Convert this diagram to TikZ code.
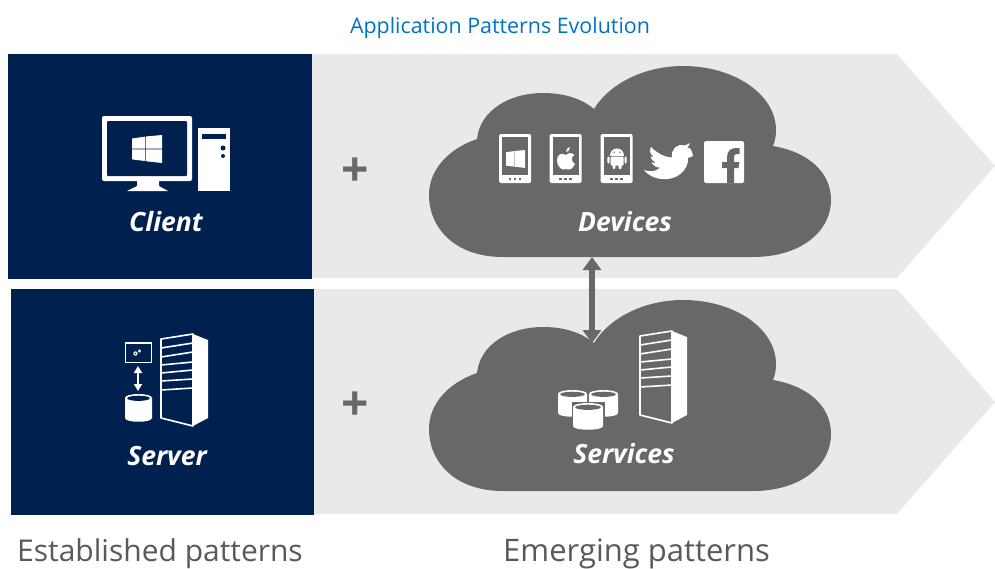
\documentclass[tikz,border=0pt]{standalone}
\usepackage{fontspec}
\setmainfont{Open Sans}
\usetikzlibrary{arrows.meta}
\definecolor{navybox}{HTML}{002050}
\definecolor{cloudgray}{HTML}{686868}
\definecolor{bandgray}{HTML}{E9E9E9}
\definecolor{titleblue}{HTML}{0072C6}
\definecolor{captiongray}{HTML}{595959}
\tikzset{
band/.style={fill=bandgray},
navy/.style={fill=navybox},
cloudshape/.style={fill=cloudgray},
tag/.style={text=white, font=\fontsize{26.5}{26.5}\selectfont\bfseries\itshape},
plussign/.style={text=cloudgray, inner sep=0pt, font=\fontsize{48}{48}\selectfont\bfseries},
caption/.style={text=captiongray, anchor=base west, inner sep=0pt},
linkarrow/.style={draw=cloudgray, line width=5.5pt, {Triangle[length=13pt,width=18pt]}-{Triangle[length=13pt,width=18pt]}},
smallarrow/.style={draw=white, line width=2pt, {Triangle[length=7pt,width=8pt]}-{Triangle[length=7pt,width=8pt]}},
winlogo/.pic={
	\fill[white] (0,3.5) -- (12.9,1.7) -- (12.9,13.7) -- (0,13.7) -- cycle;
	\fill[white] (13.6,1.5) -- (30,0) -- (30,13.7) -- (13.6,13.7) -- cycle;
	\fill[white] (0,14.4) -- (12.9,14.4) -- (12.9,26) -- (0,24.4) -- cycle;
	\fill[white] (13.6,14.4) -- (30,14.4) -- (30,28) -- (13.6,26.2) -- cycle;
},
phone/.pic={
	\fill[white, rounded corners=1.5pt] (0,0) rectangle (32,49);
	\fill[cloudgray] (3,3) rectangle (29,41);
	\foreach \dotx in {11,16,21}
		\fill[cloudgray] (\dotx-1.2,44) rectangle (\dotx+1.2,46);
},
rack/.pic={
	\draw[white, line width=1.6pt, line join=round] (0,5) -- (32,0) -- (32,92) -- (0,84) -- cycle;
	\fill[white] (32,0) -- (47,6) -- (47,84) -- (32,92) -- cycle;
	\foreach \ya/\yb in {14/9,23/18,31/28,39/36,47/45,56/54}
		\draw[white, line width=1.6pt] (0,\ya) -- (32,\yb);
},
}
\newcommand{\cloudpath}{(503,257) .. controls (455,257) and (429,228) .. (429,195)
	.. controls (429,170) and (448,149) .. (477,139)
	.. controls (480,110) and (510,93) .. (543,93)
	.. controls (565,93) and (582,99) .. (594,109)
	.. controls (610,83) and (645,66) .. (683,66)
	.. controls (735,66) and (776,95) .. (776,130)
	.. controls (776,136) and (775,141) .. (773,146)
	.. controls (808,152) and (831,172) .. (831,200)
	.. controls (831,232) and (800,257) .. (753,257) -- cycle}
\newcommand{\dbcyl}[5]{% x, y, width, height, inner colour
	\begin{scope}[shift={(#1,#2)}]
	\fill[white] (0,4) -- (0,#4-4) .. controls (0,#4+1) and (#3,#4+1) .. (#3,#4-4)
		-- (#3,4) .. controls (#3,-1.3) and (0,-1.3) .. (0,4) -- cycle;
	\fill[#5] (#3/2,4.3) ellipse [x radius=#3/2-2.2, y radius=2.6];
	\end{scope}
}

\begin{document}
\begin{tikzpicture}[x=1pt, y=-1pt]
	\useasboundingbox (0,0) rectangle (995,568);

	% bands
	\fill[band] (312,54) -- (897,54) -- (995,166) -- (897,278) -- (312,278) -- cycle;
	\fill[band] (314,289) -- (897,289) -- (995,402) -- (897,514) -- (314,514) -- cycle;
	\fill[navy] (8,54) rectangle (312,279);
	\fill[navy] (11,289) rectangle (314,515);

	% clouds
	\fill[cloudshape] \cloudpath;
	\fill[cloudshape, yshift=-234pt] \cloudpath;
	\coordinate (devtip) at (592,257);
	\coordinate (svctip) at (592,343);
	\draw[linkarrow] (devtip) -- (svctip);

	% client icon
	\fill[white, rounded corners=2pt] (102,116) rectangle (192,181);
	\fill[navybox, rounded corners=1pt] (107,121) rectangle (187,176);
	\fill[white] (137,181) -- (159,181) -- (159,186) -- (168,191) -- (127,191) -- (137,186) -- cycle;
	\pic at (132,135) {winlogo};
	\fill[white] (198,128) rectangle (230,191);
	\fill[navybox] (202,134) rectangle (226,139);
	\fill[navybox] (223,148) circle (2.5);
	\fill[navybox] (223,156) circle (2);

	% device icons
	\pic at (499,134) {phone};
	\pic at (549.5,134) {phone};
	\pic at (600.5,134) {phone};
	\pic[scale=.64] at (506,150) {winlogo};
	\fill[white] (566,155) .. controls (561,152) and (557,155) .. (557,160)
		.. controls (557,166) and (561,169.5) .. (563,169.5)
		.. controls (565,169.5) and (567,168.5) .. (569,169.5)
		.. controls (572,169.5) and (574,166) .. (575,164)
		.. controls (571,162) and (571,156) .. (574.5,155)
		.. controls (572,152) and (568,153) .. (566,155) -- cycle;
	\fill[white] (566,152) .. controls (566,149) and (568,147.5) .. (570,147)
		.. controls (570,150) and (568,152) .. (566,152) -- cycle;
	% android
	\fill[white] (610,155.5) .. controls (610,146) and (624,146) .. (624,155.5) -- cycle;
	\fill[white, rounded corners=1pt] (610.5,156.5) rectangle (623.5,165.5);
	\fill[white, rounded corners=1pt] (607.3,156.5) rectangle (609.5,163.5);
	\fill[white, rounded corners=1pt] (624.5,156.5) rectangle (626.7,163.5);
	\fill[white, rounded corners=1pt] (612.5,164) rectangle (615.3,169);
	\fill[white, rounded corners=1pt] (618.7,164) rectangle (621.5,169);
	\fill[cloudgray] (614,152.2) circle (.8);
	\fill[cloudgray] (620,152.2) circle (.8);
	% bird
	\fill[white] (644,170) .. controls (650,172) and (655,172) .. (660,167.7)
		.. controls (655,167.3) and (653,165) .. (651.5,162.7)
		.. controls (653,162.7) and (655,162.7) .. (656,162.3)
		.. controls (652,161) and (650.5,158) .. (650.5,156.5)
		.. controls (651.5,157) and (652.5,157) .. (654,157)
		.. controls (650,154) and (649,151) .. (651,147)
		.. controls (656,152) and (663,157) .. (672,157.5)
		.. controls (670.5,150) and (677,143) .. (684,145.5)
		.. controls (686,145.5) and (688,144) .. (690,143)
		.. controls (689.5,145) and (688.5,146.5) .. (687,147.5)
		.. controls (689,147.5) and (691,147) .. (693,156)
		.. controls (691,157) and (690,157.5) .. (688,158)
		.. controls (689,170) and (676,181) .. (662,179)
		.. controls (654,178.5) and (648,175) .. (644,170) -- cycle;
	% facebook
	\fill[white, rounded corners=1.5pt] (704,141) rectangle (744,183);
	\fill[cloudgray] (727,183) -- (727,168) -- (722,168) -- (722,162) -- (727,162) -- (727,157)
		.. controls (727,151) and (731,148) .. (736,148) -- (739.5,148) -- (739.5,154) -- (737,154)
		.. controls (735,154) and (734,155) .. (734,157) -- (734,162) -- (739.5,162)
		-- (738.5,168) -- (734,168) -- (734,183) -- cycle;

	% server icon
	\draw[white, line width=1pt] (125.5,342) rectangle (151.5,362);
	\draw[white, line width=2pt] (125,342.5) -- (152,342.5);
	\fill[white] (135.5,353.5) circle (2.2);
	\fill[white] (139.5,351) circle (1.6);
	\fill[navybox] (135.5,353.5) circle (.8);
	\coordinate (winbox) at (138,366);
	\coordinate (dbbox) at (138,391);
	\draw[smallarrow] (winbox) -- (dbbox);
	\dbcyl{125}{394}{27}{28}{navybox}
	\pic at (161,334) {rack};

	% services icon
	\dbcyl{558}{390}{29}{27}{cloudgray}
	\dbcyl{589}{390}{29}{27}{cloudgray}
	\fill[cloudgray] (571.5,402) rectangle (604.5,431);
	\dbcyl{573}{403}{30}{27}{cloudgray}
	\pic at (640,331) {rack};

	% texts
	\node[anchor=base, inner sep=0pt, text=titleblue, font=\fontsize{21.4}{21.4}\selectfont] (title) at (500,33) {Application Patterns Evolution};
	\node[tag] (client) at (166,222) {Client};
	\node[tag] (devices) at (625,222) {Devices};
	\node[tag] (server) at (167,456) {Server};
	\node[tag] (services) at (624,454) {Services};
	\node[plussign] (plusa) at (355,172) {+};
	\node[plussign] (plusb) at (355,406) {+};
	\node[caption, font=\fontsize{30}{30}\selectfont] (established) at (17,561) {Established patterns};
	\node[caption, font=\fontsize{31}{31}\selectfont] (emerging) at (503,561) {Emerging patterns};
\end{tikzpicture}
\end{document}
